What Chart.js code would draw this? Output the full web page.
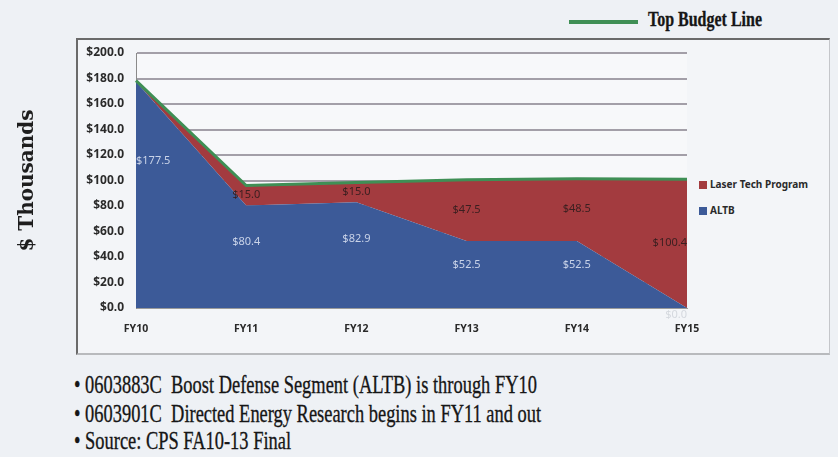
<!DOCTYPE html>
<html>
<head>
<meta charset="utf-8">
<script src="https://cdn.jsdelivr.net/npm/chart.js@4.4.0/dist/chart.umd.min.js"></script>
<style>
  body { margin: 0; background: #eef1f5; width: 838px; height: 457px; overflow: hidden; position: relative; }
  #frame { position: absolute; left: 76px; top: 38px; width: 751px; height: 313px;
           border-left: 2px solid #6a6a6a; border-top: 2px solid #6a6a6a;
           border-right: 1px solid #c4c6ca; border-bottom: 2px solid #b8babd; background: #f3f5f8; }
  #plotbg { position: absolute; left: 136px; top: 53px; width: 551px; height: 253px; background: #f7f8fa; }
  canvas { position: absolute; left: 0; top: 0; }
  .serif { font-family: "Liberation Serif", serif; color: #161616; position: absolute; white-space: nowrap;
           transform-origin: 0 50%; -webkit-text-stroke: 0.25px #161616; }
  #toplegend { left: 648px; top: 10px; font-size: 17px; font-weight: bold; transform: scale(0.94, 1.25); }
  #topline { position: absolute; left: 569px; top: 20px; width: 69px; height: 4px; background: #3f8f55; }
  .leg { position: absolute; font: bold 10px "Noto Sans", sans-serif; color: #2a2a2a; white-space: nowrap; }
  .leg span { display: inline-block; width: 8px; height: 8px; margin-right: 3px; vertical-align: -1px; }
  .bullet { font-size: 19px; transform: scale(0.97, 1.3); }
</style>
</head>
<body>
<div id="frame"></div>
<div id="plotbg"></div>
<div id="topline"></div>
<div id="toplegend" class="serif">Top Budget Line</div>
<div class="leg" style="left:699px; top:177px;"><span style="background:#a33b3f"></span>Laser Tech Program</div>
<div class="leg" style="left:699px; top:203px;"><span style="background:#3c5a98"></span>ALTB</div>
<div class="serif bullet" style="left:74px; top:374px;">• 0603883C&nbsp; Boost Defense Segment (ALTB) is through FY10</div>
<div class="serif bullet" style="left:74px; top:403px;">• 0603901C&nbsp; Directed Energy Research begins in FY11 and out</div>
<div class="serif bullet" style="left:74px; top:430px;">• Source: CPS FA10-13 Final</div>
<canvas id="chart" width="838" height="457"></canvas>
<script>
const years = ["FY10", "FY11", "FY12", "FY13", "FY14", "FY15"];
const altb = [177.5, 80.4, 82.9, 52.5, 52.5, 0.0];
const laser = [0, 15.0, 15.0, 47.5, 48.5, 100.4];
const budgetLine = [178.3, 96.0, 98.4, 100.5, 101.3, 100.9];

const blue = "#3c5a98";
const red = "#a33b3f";
const green = "#3f8f55";

const money = v => "$" + v.toFixed(1);

// Excel-style value labels inside the stacked areas
const areaLabels = {
  id: "areaLabels",
  afterDatasetsDraw(chart) {
    const ctx = chart.ctx;
    const xs = chart.scales.x, ys = chart.scales.y;
    ctx.save();
    ctx.font = "11px 'Noto Sans', sans-serif";
    ctx.textBaseline = "middle";
    years.forEach((y, i) => {
      const x = xs.getPixelForValue(i);
      ctx.textAlign = i === 0 ? "left" : (i === years.length - 1 ? "right" : "center");
      // ALTB
      const va = altb[i] > 0 ? altb[i] * 0.65 : -5;
      ctx.fillStyle = altb[i] > 0 ? "#c9d3e8" : "#d4d8de";
      ctx.fillText(money(altb[i]), x, ys.getPixelForValue(va));
      // Laser
      if (laser[i] > 0) {
        ctx.fillStyle = "#3a1f20";
        ctx.fillText(money(laser[i]), x, ys.getPixelForValue(altb[i] + laser[i] / 2) - 1);
      }
    });
    ctx.restore();
  }
};

new Chart(document.getElementById("chart"), {
  type: "line",
  data: {
    labels: years,
    datasets: [
      { label: "Top Budget Line", data: budgetLine, stack: "b", borderColor: green, borderWidth: 3,
        pointRadius: 0, fill: false, tension: 0 },
      { label: "ALTB", data: altb, stack: "s", borderWidth: 0, borderColor: blue, backgroundColor: blue,
        pointRadius: 0, fill: "origin", tension: 0 },
      { label: "Laser Tech Program", data: laser, stack: "s", borderWidth: 0, borderColor: red, backgroundColor: red,
        pointRadius: 0, fill: "-1", tension: 0 }
    ]
  },
  options: {
    responsive: false,
    animation: false,
    layout: { padding: { left: 0, top: 53, right: 151, bottom: 109 } },
    plugins: { legend: { display: false }, tooltip: { enabled: false } },
    scales: {
      x: {
        offset: false,
        grid: { display: false, drawTicks: false },
        border: { color: "#9a9a9a", width: 1 },
        ticks: { padding: 15, maxRotation: 0, color: "#2a2a2a",
                 font: { family: "'Noto Sans', sans-serif", size: 10.5, weight: "bold" } },
        afterFit(scale) { scale.height = 40; }
      },
      y: {
        stacked: true,
        min: 0, max: 200,
        ticks: { stepSize: 20, padding: 12, color: "#2a2a2a", callback: v => money(v),
                 font: { family: "'Noto Sans', sans-serif", size: 12, weight: "bold" } },
        grid: { color: "#a39fa8", lineWidth: 2, drawTicks: false },
        border: { color: "#8a8a8a", width: 1 },
        title: { display: true, text: "$ Thousands", color: "#1e1e1e", padding: { top: 16, bottom: 0 },
                 font: { family: "'DejaVu Serif', serif", size: 20, weight: "bold" } },
        afterFit(scale) { scale.width = 136; }
      }
    }
  },
  plugins: [areaLabels]
});
</script>
</body>
</html>
